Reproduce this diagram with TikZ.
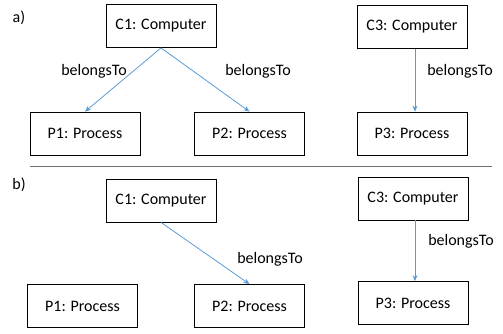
\documentclass[tikz,border=0pt]{standalone}
\usepackage{fontspec}
\setmainfont{Carlito}
\usetikzlibrary{arrows.meta}
\definecolor{arrowblue}{HTML}{5B9BD5}
\definecolor{sepgray}{HTML}{6F6F6F}
\tikzset{
  obj/.style={draw=black, line width=0.8pt, minimum width=110pt, minimum height=43pt, inner sep=0pt, font=\fontsize{16}{19}\selectfont},
  rel/.style={draw=arrowblue, line width=0.8pt, -{Stealth[length=6pt,width=5pt]}},
  lbl/.style={font=\fontsize{16}{19}\selectfont, inner sep=0pt},
}
\begin{document}
\begin{tikzpicture}[x=1pt,y=-1pt]
\useasboundingbox (0,0) rectangle (503,333);
% part a
\node[lbl] (la) at (19,18) {a)};
\node[obj] (C1) at (161,26) {C1: Computer};
\node[obj] (P1) at (85,133.5) {P1: Process};
\node[obj] (P2) at (249.5,133.5) {P2: Process};
\node[obj] (C3) at (412,27) {C3: Computer};
\node[obj] (P3) at (412,133.5) {P3: Process};
\draw[rel] (C1.south) -- (P1.north);
\draw[rel] (C1.south) -- (P2.north);
\draw[rel] ([xshift=3pt]C3.south) -- ([xshift=3pt]P3.north);
\node[lbl] (b1) at (94,71) {belongsTo};
\node[lbl] (b2) at (258,71) {belongsTo};
\node[lbl] (b3) at (460,71) {belongsTo};
% separator
\coordinate (s1) at (30,166);
\coordinate (s2) at (492,166);
\draw[sepgray, line width=1pt] (s1) -- (s2);
% part b
\node[lbl] (lb) at (19,185) {b)};
\node[obj] (C1b) at (161,200.5) {C1: Computer};
\node[obj] (P1b) at (82.5,306) {P1: Process};
\node[obj] (P2b) at (249.5,306) {P2: Process};
\node[obj] (C3b) at (413,198.5) {C3: Computer};
\node[obj] (P3b) at (413,303) {P3: Process};
\draw[rel] (C1b.south) -- (P2b.north);
\draw[rel] ([xshift=2pt]C3b.south) -- ([xshift=2pt]P3b.north);
\node[lbl] (b4) at (270,259) {belongsTo};
\node[lbl] (b5) at (461,241) {belongsTo};
\end{tikzpicture}
\end{document}
